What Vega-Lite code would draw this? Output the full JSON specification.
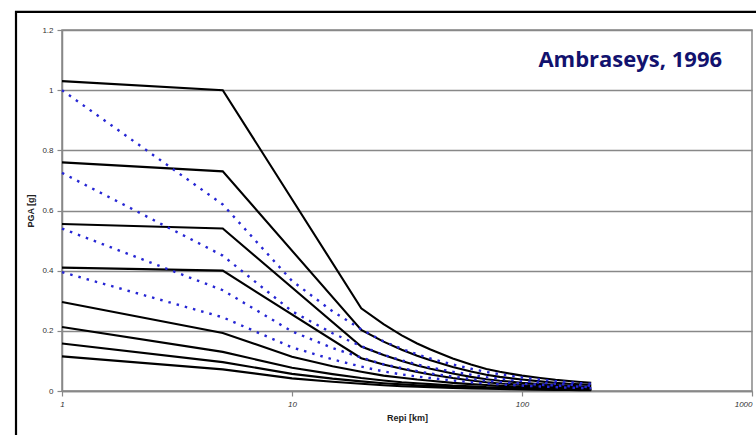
{
  "$schema": "https://vega.github.io/schema/vega-lite/v6.json",
  "width": 690,
  "height": 361,
  "autosize": {"type": "none"},
  "padding": {"left": 62, "top": 30, "right": 4, "bottom": 44},
  "background": "white",
  "config": {
    "view": {"stroke": "#888888", "strokeWidth": 1.5},
    "axis": {"labelFont": "Liberation Sans", "titleFont": "Liberation Sans", "labelColor": "#333333", "titleColor": "#222222", "domainColor": "#888888", "domainWidth": 1.5, "tickColor": "#888888", "tickWidth": 1.2, "gridColor": "#888888", "gridWidth": 1.6, "gridOpacity": 1}
  },
  "datasets": {
    "curves": [
      {"series": "b1", "kind": "black", "x": 1, "y": 1.03}, {"series": "b1", "kind": "black", "x": 5, "y": 1.0}, {"series": "b1", "kind": "black", "x": 20, "y": 0.275}, {"series": "b1", "kind": "black", "x": 25, "y": 0.222}, {"series": "b1", "kind": "black", "x": 30, "y": 0.185}, {"series": "b1", "kind": "black", "x": 35, "y": 0.158}, {"series": "b1", "kind": "black", "x": 40, "y": 0.138}, {"series": "b1", "kind": "black", "x": 50, "y": 0.108}, {"series": "b1", "kind": "black", "x": 60, "y": 0.088}, {"series": "b1", "kind": "black", "x": 70, "y": 0.073}, {"series": "b1", "kind": "black", "x": 80, "y": 0.064}, {"series": "b1", "kind": "black", "x": 90, "y": 0.057}, {"series": "b1", "kind": "black", "x": 100, "y": 0.051}, {"series": "b1", "kind": "black", "x": 120, "y": 0.043}, {"series": "b1", "kind": "black", "x": 140, "y": 0.037}, {"series": "b1", "kind": "black", "x": 160, "y": 0.033}, {"series": "b1", "kind": "black", "x": 180, "y": 0.030}, {"series": "b1", "kind": "black", "x": 200, "y": 0.027},
      {"series": "b2", "kind": "black", "x": 1, "y": 0.76}, {"series": "b2", "kind": "black", "x": 5, "y": 0.73}, {"series": "b2", "kind": "black", "x": 20, "y": 0.203}, {"series": "b2", "kind": "black", "x": 25, "y": 0.164}, {"series": "b2", "kind": "black", "x": 30, "y": 0.137}, {"series": "b2", "kind": "black", "x": 35, "y": 0.117}, {"series": "b2", "kind": "black", "x": 40, "y": 0.102}, {"series": "b2", "kind": "black", "x": 50, "y": 0.080}, {"series": "b2", "kind": "black", "x": 60, "y": 0.065}, {"series": "b2", "kind": "black", "x": 70, "y": 0.054}, {"series": "b2", "kind": "black", "x": 80, "y": 0.047}, {"series": "b2", "kind": "black", "x": 90, "y": 0.042}, {"series": "b2", "kind": "black", "x": 100, "y": 0.038}, {"series": "b2", "kind": "black", "x": 120, "y": 0.032}, {"series": "b2", "kind": "black", "x": 140, "y": 0.027}, {"series": "b2", "kind": "black", "x": 160, "y": 0.024}, {"series": "b2", "kind": "black", "x": 180, "y": 0.022}, {"series": "b2", "kind": "black", "x": 200, "y": 0.020},
      {"series": "b3", "kind": "black", "x": 1, "y": 0.555}, {"series": "b3", "kind": "black", "x": 5, "y": 0.54}, {"series": "b3", "kind": "black", "x": 20, "y": 0.148}, {"series": "b3", "kind": "black", "x": 25, "y": 0.120}, {"series": "b3", "kind": "black", "x": 30, "y": 0.100}, {"series": "b3", "kind": "black", "x": 35, "y": 0.085}, {"series": "b3", "kind": "black", "x": 40, "y": 0.074}, {"series": "b3", "kind": "black", "x": 50, "y": 0.058}, {"series": "b3", "kind": "black", "x": 60, "y": 0.047}, {"series": "b3", "kind": "black", "x": 70, "y": 0.039}, {"series": "b3", "kind": "black", "x": 80, "y": 0.034}, {"series": "b3", "kind": "black", "x": 90, "y": 0.031}, {"series": "b3", "kind": "black", "x": 100, "y": 0.027}, {"series": "b3", "kind": "black", "x": 120, "y": 0.023}, {"series": "b3", "kind": "black", "x": 140, "y": 0.020}, {"series": "b3", "kind": "black", "x": 160, "y": 0.018}, {"series": "b3", "kind": "black", "x": 180, "y": 0.016}, {"series": "b3", "kind": "black", "x": 200, "y": 0.015},
      {"series": "b4", "kind": "black", "x": 1, "y": 0.41}, {"series": "b4", "kind": "black", "x": 5, "y": 0.40}, {"series": "b4", "kind": "black", "x": 20, "y": 0.109}, {"series": "b4", "kind": "black", "x": 25, "y": 0.088}, {"series": "b4", "kind": "black", "x": 30, "y": 0.074}, {"series": "b4", "kind": "black", "x": 35, "y": 0.063}, {"series": "b4", "kind": "black", "x": 40, "y": 0.055}, {"series": "b4", "kind": "black", "x": 50, "y": 0.043}, {"series": "b4", "kind": "black", "x": 60, "y": 0.035}, {"series": "b4", "kind": "black", "x": 70, "y": 0.029}, {"series": "b4", "kind": "black", "x": 80, "y": 0.025}, {"series": "b4", "kind": "black", "x": 90, "y": 0.023}, {"series": "b4", "kind": "black", "x": 100, "y": 0.020}, {"series": "b4", "kind": "black", "x": 120, "y": 0.017}, {"series": "b4", "kind": "black", "x": 140, "y": 0.015}, {"series": "b4", "kind": "black", "x": 160, "y": 0.013}, {"series": "b4", "kind": "black", "x": 180, "y": 0.012}, {"series": "b4", "kind": "black", "x": 200, "y": 0.011},
      {"series": "b5", "kind": "black", "x": 1, "y": 0.296}, {"series": "b5", "kind": "black", "x": 5, "y": 0.193}, {"series": "b5", "kind": "black", "x": 10, "y": 0.114}, {"series": "b5", "kind": "black", "x": 15, "y": 0.082}, {"series": "b5", "kind": "black", "x": 20, "y": 0.064}, {"series": "b5", "kind": "black", "x": 25, "y": 0.051}, {"series": "b5", "kind": "black", "x": 30, "y": 0.044}, {"series": "b5", "kind": "black", "x": 35, "y": 0.038}, {"series": "b5", "kind": "black", "x": 40, "y": 0.034}, {"series": "b5", "kind": "black", "x": 50, "y": 0.027}, {"series": "b5", "kind": "black", "x": 60, "y": 0.023}, {"series": "b5", "kind": "black", "x": 70, "y": 0.020}, {"series": "b5", "kind": "black", "x": 80, "y": 0.017}, {"series": "b5", "kind": "black", "x": 90, "y": 0.016}, {"series": "b5", "kind": "black", "x": 100, "y": 0.014}, {"series": "b5", "kind": "black", "x": 120, "y": 0.012}, {"series": "b5", "kind": "black", "x": 140, "y": 0.010}, {"series": "b5", "kind": "black", "x": 160, "y": 0.009}, {"series": "b5", "kind": "black", "x": 180, "y": 0.008}, {"series": "b5", "kind": "black", "x": 200, "y": 0.007},
      {"series": "b6", "kind": "black", "x": 1, "y": 0.213}, {"series": "b6", "kind": "black", "x": 5, "y": 0.13}, {"series": "b6", "kind": "black", "x": 10, "y": 0.077}, {"series": "b6", "kind": "black", "x": 15, "y": 0.056}, {"series": "b6", "kind": "black", "x": 20, "y": 0.043}, {"series": "b6", "kind": "black", "x": 25, "y": 0.035}, {"series": "b6", "kind": "black", "x": 30, "y": 0.029}, {"series": "b6", "kind": "black", "x": 35, "y": 0.026}, {"series": "b6", "kind": "black", "x": 40, "y": 0.023}, {"series": "b6", "kind": "black", "x": 50, "y": 0.018}, {"series": "b6", "kind": "black", "x": 60, "y": 0.016}, {"series": "b6", "kind": "black", "x": 70, "y": 0.013}, {"series": "b6", "kind": "black", "x": 80, "y": 0.012}, {"series": "b6", "kind": "black", "x": 90, "y": 0.011}, {"series": "b6", "kind": "black", "x": 100, "y": 0.0095}, {"series": "b6", "kind": "black", "x": 120, "y": 0.008}, {"series": "b6", "kind": "black", "x": 140, "y": 0.007}, {"series": "b6", "kind": "black", "x": 160, "y": 0.006}, {"series": "b6", "kind": "black", "x": 180, "y": 0.0055}, {"series": "b6", "kind": "black", "x": 200, "y": 0.005},
      {"series": "b7", "kind": "black", "x": 1, "y": 0.158}, {"series": "b7", "kind": "black", "x": 5, "y": 0.096}, {"series": "b7", "kind": "black", "x": 10, "y": 0.057}, {"series": "b7", "kind": "black", "x": 15, "y": 0.041}, {"series": "b7", "kind": "black", "x": 20, "y": 0.032}, {"series": "b7", "kind": "black", "x": 25, "y": 0.026}, {"series": "b7", "kind": "black", "x": 30, "y": 0.022}, {"series": "b7", "kind": "black", "x": 35, "y": 0.019}, {"series": "b7", "kind": "black", "x": 40, "y": 0.017}, {"series": "b7", "kind": "black", "x": 50, "y": 0.014}, {"series": "b7", "kind": "black", "x": 60, "y": 0.011}, {"series": "b7", "kind": "black", "x": 70, "y": 0.010}, {"series": "b7", "kind": "black", "x": 80, "y": 0.009}, {"series": "b7", "kind": "black", "x": 90, "y": 0.008}, {"series": "b7", "kind": "black", "x": 100, "y": 0.007}, {"series": "b7", "kind": "black", "x": 120, "y": 0.006}, {"series": "b7", "kind": "black", "x": 140, "y": 0.005}, {"series": "b7", "kind": "black", "x": 160, "y": 0.0045}, {"series": "b7", "kind": "black", "x": 180, "y": 0.004}, {"series": "b7", "kind": "black", "x": 200, "y": 0.0037},
      {"series": "b8", "kind": "black", "x": 1, "y": 0.115}, {"series": "b8", "kind": "black", "x": 5, "y": 0.072}, {"series": "b8", "kind": "black", "x": 10, "y": 0.042}, {"series": "b8", "kind": "black", "x": 15, "y": 0.031}, {"series": "b8", "kind": "black", "x": 20, "y": 0.024}, {"series": "b8", "kind": "black", "x": 25, "y": 0.019}, {"series": "b8", "kind": "black", "x": 30, "y": 0.016}, {"series": "b8", "kind": "black", "x": 35, "y": 0.014}, {"series": "b8", "kind": "black", "x": 40, "y": 0.0125}, {"series": "b8", "kind": "black", "x": 50, "y": 0.010}, {"series": "b8", "kind": "black", "x": 60, "y": 0.0086}, {"series": "b8", "kind": "black", "x": 70, "y": 0.0073}, {"series": "b8", "kind": "black", "x": 80, "y": 0.0065}, {"series": "b8", "kind": "black", "x": 90, "y": 0.0058}, {"series": "b8", "kind": "black", "x": 100, "y": 0.0052}, {"series": "b8", "kind": "black", "x": 120, "y": 0.0044}, {"series": "b8", "kind": "black", "x": 140, "y": 0.0038}, {"series": "b8", "kind": "black", "x": 160, "y": 0.0034}, {"series": "b8", "kind": "black", "x": 180, "y": 0.003}, {"series": "b8", "kind": "black", "x": 200, "y": 0.0028},
      {"series": "u1", "kind": "blue", "x": 1, "y": 1.0}, {"series": "u1", "kind": "blue", "x": 5, "y": 0.62}, {"series": "u1", "kind": "blue", "x": 10, "y": 0.366}, {"series": "u1", "kind": "blue", "x": 15, "y": 0.265}, {"series": "u1", "kind": "blue", "x": 20, "y": 0.205}, {"series": "u1", "kind": "blue", "x": 25, "y": 0.165}, {"series": "u1", "kind": "blue", "x": 30, "y": 0.14}, {"series": "u1", "kind": "blue", "x": 35, "y": 0.122}, {"series": "u1", "kind": "blue", "x": 40, "y": 0.108}, {"series": "u1", "kind": "blue", "x": 50, "y": 0.088}, {"series": "u1", "kind": "blue", "x": 60, "y": 0.074}, {"series": "u1", "kind": "blue", "x": 70, "y": 0.063}, {"series": "u1", "kind": "blue", "x": 80, "y": 0.056}, {"series": "u1", "kind": "blue", "x": 90, "y": 0.050}, {"series": "u1", "kind": "blue", "x": 100, "y": 0.045}, {"series": "u1", "kind": "blue", "x": 120, "y": 0.038}, {"series": "u1", "kind": "blue", "x": 140, "y": 0.033}, {"series": "u1", "kind": "blue", "x": 160, "y": 0.029}, {"series": "u1", "kind": "blue", "x": 180, "y": 0.026}, {"series": "u1", "kind": "blue", "x": 200, "y": 0.024},
      {"series": "u2", "kind": "blue", "x": 1, "y": 0.725}, {"series": "u2", "kind": "blue", "x": 5, "y": 0.45}, {"series": "u2", "kind": "blue", "x": 10, "y": 0.265}, {"series": "u2", "kind": "blue", "x": 15, "y": 0.192}, {"series": "u2", "kind": "blue", "x": 20, "y": 0.149}, {"series": "u2", "kind": "blue", "x": 25, "y": 0.120}, {"series": "u2", "kind": "blue", "x": 30, "y": 0.102}, {"series": "u2", "kind": "blue", "x": 35, "y": 0.088}, {"series": "u2", "kind": "blue", "x": 40, "y": 0.078}, {"series": "u2", "kind": "blue", "x": 50, "y": 0.064}, {"series": "u2", "kind": "blue", "x": 60, "y": 0.054}, {"series": "u2", "kind": "blue", "x": 70, "y": 0.046}, {"series": "u2", "kind": "blue", "x": 80, "y": 0.041}, {"series": "u2", "kind": "blue", "x": 90, "y": 0.036}, {"series": "u2", "kind": "blue", "x": 100, "y": 0.033}, {"series": "u2", "kind": "blue", "x": 120, "y": 0.028}, {"series": "u2", "kind": "blue", "x": 140, "y": 0.024}, {"series": "u2", "kind": "blue", "x": 160, "y": 0.021}, {"series": "u2", "kind": "blue", "x": 180, "y": 0.019}, {"series": "u2", "kind": "blue", "x": 200, "y": 0.017},
      {"series": "u3", "kind": "blue", "x": 1, "y": 0.54}, {"series": "u3", "kind": "blue", "x": 5, "y": 0.335}, {"series": "u3", "kind": "blue", "x": 10, "y": 0.198}, {"series": "u3", "kind": "blue", "x": 15, "y": 0.143}, {"series": "u3", "kind": "blue", "x": 20, "y": 0.111}, {"series": "u3", "kind": "blue", "x": 25, "y": 0.089}, {"series": "u3", "kind": "blue", "x": 30, "y": 0.076}, {"series": "u3", "kind": "blue", "x": 35, "y": 0.066}, {"series": "u3", "kind": "blue", "x": 40, "y": 0.058}, {"series": "u3", "kind": "blue", "x": 50, "y": 0.048}, {"series": "u3", "kind": "blue", "x": 60, "y": 0.040}, {"series": "u3", "kind": "blue", "x": 70, "y": 0.034}, {"series": "u3", "kind": "blue", "x": 80, "y": 0.030}, {"series": "u3", "kind": "blue", "x": 90, "y": 0.027}, {"series": "u3", "kind": "blue", "x": 100, "y": 0.024}, {"series": "u3", "kind": "blue", "x": 120, "y": 0.021}, {"series": "u3", "kind": "blue", "x": 140, "y": 0.018}, {"series": "u3", "kind": "blue", "x": 160, "y": 0.016}, {"series": "u3", "kind": "blue", "x": 180, "y": 0.014}, {"series": "u3", "kind": "blue", "x": 200, "y": 0.013},
      {"series": "u4", "kind": "blue", "x": 1, "y": 0.395}, {"series": "u4", "kind": "blue", "x": 5, "y": 0.245}, {"series": "u4", "kind": "blue", "x": 10, "y": 0.145}, {"series": "u4", "kind": "blue", "x": 15, "y": 0.105}, {"series": "u4", "kind": "blue", "x": 20, "y": 0.081}, {"series": "u4", "kind": "blue", "x": 25, "y": 0.065}, {"series": "u4", "kind": "blue", "x": 30, "y": 0.055}, {"series": "u4", "kind": "blue", "x": 35, "y": 0.048}, {"series": "u4", "kind": "blue", "x": 40, "y": 0.043}, {"series": "u4", "kind": "blue", "x": 50, "y": 0.035}, {"series": "u4", "kind": "blue", "x": 60, "y": 0.029}, {"series": "u4", "kind": "blue", "x": 70, "y": 0.025}, {"series": "u4", "kind": "blue", "x": 80, "y": 0.022}, {"series": "u4", "kind": "blue", "x": 90, "y": 0.020}, {"series": "u4", "kind": "blue", "x": 100, "y": 0.018}, {"series": "u4", "kind": "blue", "x": 120, "y": 0.015}, {"series": "u4", "kind": "blue", "x": 140, "y": 0.013}, {"series": "u4", "kind": "blue", "x": 160, "y": 0.011}, {"series": "u4", "kind": "blue", "x": 180, "y": 0.010}, {"series": "u4", "kind": "blue", "x": 200, "y": 0.009}
    ],
    "label": [{"text": "Ambraseys, 1996"}],
    "frame": [{"name": "frame"}]
  },
  "layer": [
    {
      "data": {"name": "frame"},
      "mark": {"type": "rect", "fill": null, "stroke": "#000000", "strokeWidth": 2.2, "clip": false},
      "encoding": {
        "x": {"datum": 0.631, "type": "quantitative", "scale": {"type": "log", "domain": [1, 1000]}},
        "x2": {"datum": 20000},
        "y": {"datum": 1.26, "type": "quantitative", "scale": {"domain": [0, 1.2], "nice": false}},
        "y2": {"datum": -0.6}
      }
    },
    {
      "data": {"name": "curves"},
      "transform": [{"filter": "datum.kind === 'black'"}],
      "mark": {"type": "line", "color": "#000000", "strokeWidth": 2.1},
      "encoding": {
        "x": {"field": "x", "type": "quantitative", "scale": {"type": "log", "domain": [1, 1000]},
          "axis": {"values": [1, 10, 100, 1000], "format": "~g", "title": "Repi  [km]", "grid": false, "labelFontSize": 8, "labelFontStyle": "italic", "tickSize": 5, "labelPadding": 4, "titleFontSize": 9, "titleFontWeight": "bold", "titlePadding": 5, "labelFlush": false,
            "labelAlign": {"condition": {"test": "datum.value >= 1000", "value": "right"}, "value": "center"}}},
        "y": {"field": "y", "type": "quantitative", "scale": {"domain": [0, 1.2], "nice": false},
          "axis": {"values": [0, 0.2, 0.4, 0.6, 0.8, 1, 1.2], "format": "~g", "title": "PGA [g]", "grid": true, "labelFontSize": 8, "tickSize": 5, "labelPadding": 4, "titleFontSize": 9, "titleFontWeight": "bold", "titlePadding": 6}},
        "detail": {"field": "series"}
      }
    },
    {
      "data": {"name": "curves"},
      "transform": [{"filter": "datum.kind === 'blue'"}],
      "mark": {"type": "line", "color": "#2626d4", "strokeWidth": 2.4, "strokeDash": [2.5, 6]},
      "encoding": {
        "x": {"field": "x", "type": "quantitative"},
        "y": {"field": "y", "type": "quantitative"},
        "detail": {"field": "series"}
      }
    },
    {
      "data": {"name": "label"},
      "mark": {"type": "text", "font": "Open Sans", "fontWeight": "bold", "fontSize": 22, "color": "#12126e", "align": "right", "baseline": "middle"},
      "encoding": {
        "text": {"field": "text"},
        "x": {"datum": 741, "type": "quantitative"},
        "y": {"datum": 1.1, "type": "quantitative"}
      }
    }
  ]
}
